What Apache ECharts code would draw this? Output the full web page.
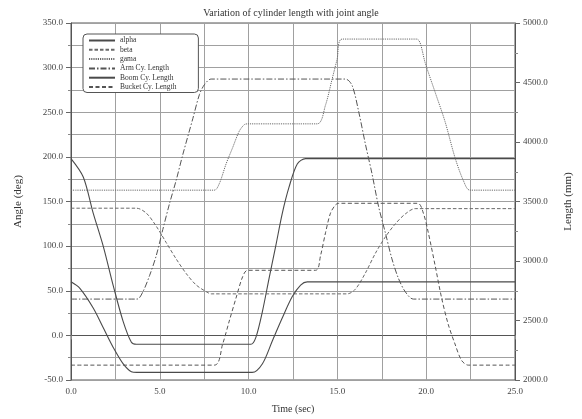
<!DOCTYPE html>
<html>
<head>
<meta charset="utf-8">
<script src="https://cdn.jsdelivr.net/npm/echarts@6/dist/echarts.min.js"></script>
<style>html,body{margin:0;padding:0;background:#fff}#c{width:582px;height:419px}</style>
</head>
<body>
<div id="c"></div>
<script>
// ---- data (time in sec, angles in deg, lengths in mm) ----
const seriesNames = ['alpha', 'beta', 'gama', 'Arm Cy. Length', 'Boom Cy. Length', 'Bucket Cy. Length'];
const alpha = [[0,198],[0.69,177.4],[1.25,137],[1.81,100.3],[2.37,56.4],[2.93,16],[3.4,-7.7],[3.68,-10],
  [10.13,-10],[10.41,-2.2],[10.78,27],[11.15,63.7],[11.53,100.3],[11.9,137],[12.28,166.3],[12.74,192],[13.21,198],[25,198]];
const beta = [[0,142.5],[3.68,142.5],[4.24,137],[4.8,122.3],[5.36,104],[5.92,85.7],[6.49,69.2],[7.05,56.4],[7.61,49],[7.9,46.5],
  [15.55,46.5],[16.01,51.7],[16.58,70],[17.14,92],[17.7,110.3],[18.26,124.9],[18.82,136],[19.38,142],[25,142]];
const gama = [[0,162.7],[8.07,162.7],[8.35,170],[8.73,192],[9.1,210.3],[9.47,228.6],[9.75,236],[9.94,237],
  [13.86,237],[14.33,258],[14.7,287],[14.98,309],[15.27,332],[19.47,332],[19.66,327.6],[19.94,305.6],[20.5,272.6],
  [21.06,239.6],[21.62,199.3],[22.09,173.6],[22.46,162.7],[25,162.7]];
const armLen = [[0,2680],[3.72,2680],[4.05,2742],[4.43,2880],[4.8,3045],[5.17,3265],[5.55,3484],[5.92,3677],[6.3,3897],
  [6.86,4197],[7.23,4398],[7.51,4481],[7.89,4529],[15.45,4529],[15.83,4474],[16.2,4254],[16.58,3980],[16.95,3732],
  [17.32,3457],[17.7,3237],[18.07,3018],[18.44,2853],[18.82,2742],[19.28,2680],[25,2680]];
const boomLen = [[0,2825],[0.5,2770],[1.25,2605],[1.81,2441],[2.37,2276],[2.93,2138],[3.4,2070],[3.7,2064],
  [10.2,2064],[10.78,2137],[11.34,2330],[11.9,2523],[12.46,2701],[12.93,2798],[13.3,2825],[25,2825]];
const bucketLen = [[0,2125],[8.07,2125],[8.54,2303],[8.91,2495],[9.29,2688],[9.66,2866],[9.94,2922],
  [13.77,2922],[14.05,3045],[14.33,3237],[14.61,3402],[14.89,3471],[15.08,3485],[19.52,3485],[19.84,3402],
  [20.12,3237],[20.5,2964],[20.87,2688],[21.24,2468],[21.62,2303],[21.99,2165],[22.37,2125],[25,2125]];
const xTicks = {min: 0, max: 25, step: 5};
const leftTicks = {min: -50, max: 350, step: 50};
const rightTicks = {min: 2000, max: 5000, step: 500};

const F = 'Liberation Serif';
const txt = {fontFamily: F, fontSize: 9, color: '#444'};
const gridCol = '#a0a0a0';
const styles = [
  {color: '#4a4a4a', width: 1.1, type: 'solid'},
  {color: '#6a6a6a', width: 1, type: [3.5, 2]},
  {color: '#6a6a6a', width: 1, type: [1.2, 1]},
  {color: '#555555', width: 1, type: [6, 2, 1.5, 2]},
  {color: '#4a4a4a', width: 1.1, type: 'solid'},
  {color: '#555555', width: 1, type: [4, 2.5]}
];
const datas = [alpha, beta, gama, armLen, boomLen, bucketLen];
const axisIdx = [0, 0, 0, 1, 1, 1];

const chart = echarts.init(document.getElementById('c'), null, {renderer: 'canvas'});
chart.setOption({
  animation: false,
  backgroundColor: '#fff',
  title: {
    text: 'Variation of cylinder length with joint angle',
    left: 'center', top: 3,
    textStyle: {fontFamily: F, fontSize: 10, fontWeight: 'normal', color: '#333'}
  },
  grid: {left: 71, right: 65, top: 23, bottom: 32, show: true, borderColor: '#555', borderWidth: 1},
  legend: {
    orient: 'vertical', left: 83, top: 34,
    padding: [2, 22, 1, 5],
    borderColor: '#555', borderWidth: 1, borderRadius: 4,
    backgroundColor: '#fff',
    itemWidth: 26, itemHeight: 9, itemGap: 0.3,
    itemStyle: {color: 'transparent', borderWidth: 0, opacity: 0},
    textStyle: {fontFamily: F, fontSize: 7.5, color: '#333', lineHeight: 9},
    data: seriesNames
  },
  xAxis: {
    type: 'value', min: xTicks.min, max: xTicks.max, interval: xTicks.step,
    name: 'Time (sec)', nameLocation: 'middle', nameGap: 24,
    nameTextStyle: {fontFamily: F, fontSize: 10, color: '#333'},
    axisLine: {show: true, lineStyle: {color: '#555'}},
    axisTick: {show: true, length: 4, lineStyle: {color: '#888'}},
    minorTick: {show: true, splitNumber: 2, length: 4, lineStyle: {color: '#888'}},
    axisLabel: Object.assign({margin: 7, formatter: v => v.toFixed(1)}, txt),
    splitLine: {show: true, lineStyle: {color: gridCol, width: 1}},
    minorSplitLine: {show: true, lineStyle: {color: gridCol, width: 1}}
  },
  yAxis: [{
    type: 'value', min: leftTicks.min, max: leftTicks.max, interval: leftTicks.step,
    name: 'Angle (deg)', nameLocation: 'middle', nameGap: 47,
    nameTextStyle: {fontFamily: F, fontSize: 11, color: '#333'},
    axisLine: {show: true, lineStyle: {color: '#555'}},
    axisTick: {show: true, length: 5, lineStyle: {color: '#666'}},
    minorTick: {show: true, splitNumber: 2, length: 3, lineStyle: {color: '#888'}},
    axisLabel: Object.assign({margin: 8, formatter: v => v.toFixed(1)}, txt),
    splitLine: {show: true, lineStyle: {color: gridCol, width: 1}},
    minorSplitLine: {show: true, lineStyle: {color: gridCol, width: 1}}
  }, {
    type: 'value', min: rightTicks.min, max: rightTicks.max, interval: rightTicks.step,
    name: 'Length (mm)', nameLocation: 'middle', nameGap: 48,
    nameTextStyle: {fontFamily: F, fontSize: 11, color: '#333'},
    axisLine: {show: true, lineStyle: {color: '#555'}},
    axisTick: {show: true, length: 5, lineStyle: {color: '#666'}},
    minorTick: {show: true, splitNumber: 2, length: 3, lineStyle: {color: '#888'}},
    axisLabel: Object.assign({margin: 8, formatter: v => v.toFixed(1)}, txt),
    splitLine: {show: false}
  }],
  series: seriesNames.map((n, i) => ({
    name: n, type: 'line', yAxisIndex: axisIdx[i], data: datas[i],
    showSymbol: false, symbol: 'none', smooth: 0.3,
    lineStyle: styles[i], itemStyle: {color: styles[i].color}, z: 3
  }))
});
</script>
</body>
</html>
